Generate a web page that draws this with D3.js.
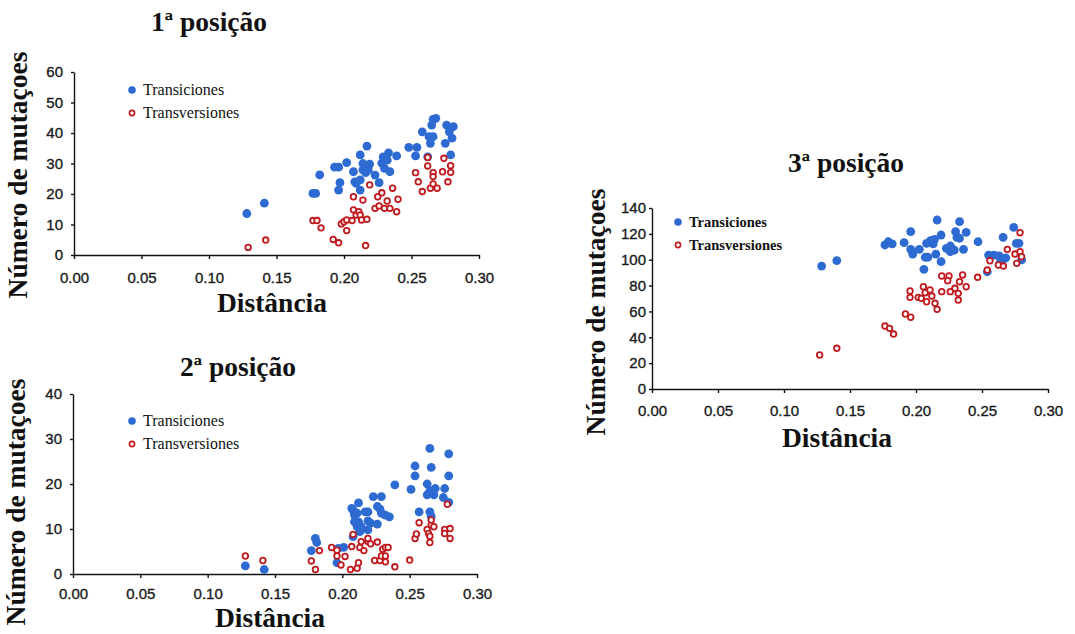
<!DOCTYPE html>
<html>
<head>
<meta charset="utf-8">
<script src="https://cdn.jsdelivr.net/npm/d3@7"></script>
<style>
  body { margin: 0; background: #fff; }
  svg { display: block; }
  .tick text { font-family: "Liberation Sans", Arial, sans-serif; font-size: 15px; fill: #1a1a1a; stroke: #1a1a1a; stroke-width: 0.35px; }
  .domain, .tick line { stroke: #111; stroke-width: 1.4px; }
  .title, .axis-label { font-family: "Liberation Serif", "Times New Roman", serif; font-weight: bold; font-size: 27.5px; fill: #111; }
  .legend-text { font-family: "Liberation Serif", "Times New Roman", serif; font-size: 16px; fill: #111; }
</style>
</head>
<body>
<svg width="1075" height="634"></svg>
<script>
// ---- data: [distance, number of mutations] ----
var xTicks = [0, 0.05, 0.10, 0.15, 0.20, 0.25, 0.30];
var seriesNames = ['Transiciones', 'Transversiones'];
var panelTitles = ['1ª posição', '2ª posição', '3ª posição'];

var trans1 = [[0.128,13.6],[0.141,17.0],[0.177,20.2],[0.179,20.2],[0.182,26.3],[0.193,28.8],[0.196,28.8],[0.202,30.3],
  [0.197,23.7],[0.196,21.3],[0.207,27.3],[0.208,24.0],[0.212,24.6],[0.209,23.5],[0.212,21.3],[0.212,32.8],[0.214,30.0],
  [0.217,35.7],[0.219,29.8],[0.214,27.9],[0.216,27.0],[0.218,27.9],[0.223,26.2],[0.226,23.7],[0.228,30.1],[0.229,32.2],
  [0.233,33.5],[0.232,31.1],[0.230,28.4],[0.234,27.3],[0.239,32.5],[0.248,35.3],[0.254,35.3],[0.253,32.5],[0.258,40.4],
  [0.263,38.8],[0.266,38.8],[0.264,36.6],[0.266,44.5],[0.268,44.8],[0.265,42.6],[0.262,32.2],[0.276,42.6],[0.281,42.1],
  [0.278,40.4],[0.275,36.6],[0.280,38.3],[0.279,32.8]];
var transv1 = [[0.129,2.5],[0.142,4.9],[0.177,11.3],[0.180,11.3],[0.183,8.9],[0.192,5.1],[0.196,4.0],[0.198,10.2],
  [0.200,10.9],[0.202,11.5],[0.202,8.0],[0.207,19.1],[0.207,14.8],[0.206,11.3],[0.209,13.1],[0.211,14.2],[0.212,13.1],
  [0.213,11.5],[0.214,18.0],[0.216,3.1],[0.217,11.7],[0.219,23.0],[0.223,15.3],[0.225,19.1],[0.228,20.4],[0.226,16.1],
  [0.230,15.3],[0.232,17.7],[0.234,15.3],[0.236,21.9],[0.239,14.2],[0.240,18.3],[0.253,27.0],[0.255,24.0],[0.258,20.8],
  [0.262,32.0],[0.262,29.2],[0.264,21.9],[0.266,27.0],[0.266,25.7],[0.266,23.3],[0.269,21.9],[0.274,31.7],[0.273,27.3],
  [0.277,24.0],[0.279,29.3],[0.279,27.1]];

var trans2 = [[0.128,1.8],[0.142,1.0],[0.177,5.2],[0.180,7.9],[0.181,7.0],[0.197,5.7],[0.201,5.9],[0.196,2.5],
  [0.207,14.6],[0.209,13.1],[0.209,11.6],[0.211,10.5],[0.208,8.3],[0.212,15.8],[0.214,10.5],[0.219,9.8],[0.219,11.8],
  [0.213,9.4],[0.217,13.8],[0.219,13.8],[0.223,17.2],[0.229,17.2],[0.226,15.0],[0.228,14.4],[0.229,13.5],[0.232,13.1],
  [0.235,12.7],[0.226,11.1],[0.208,14.2],[0.211,13.5],[0.212,11.6],[0.221,11.3],[0.239,19.8],[0.251,18.8],[0.254,24.0],
  [0.254,21.8],[0.257,13.8],[0.263,20.0],[0.265,18.5],[0.269,19.0],[0.263,17.6],[0.268,17.6],[0.265,27.9],[0.266,23.7],
  [0.265,13.8],[0.266,12.8],[0.276,19.0],[0.275,17.0],[0.279,26.7],[0.279,21.8],[0.279,15.9]];
var transv2 = [[0.128,4.0],[0.141,3.0],[0.177,2.9],[0.180,1.0],[0.183,5.2],[0.192,5.9],[0.196,4.0],[0.196,5.3],
  [0.199,2.0],[0.202,3.9],[0.206,1.0],[0.207,6.1],[0.208,8.8],[0.211,1.3],[0.212,2.5],[0.213,5.9],[0.214,7.2],
  [0.216,5.2],[0.219,7.2],[0.219,7.9],[0.221,6.7],[0.224,3.0],[0.226,7.1],[0.228,3.0],[0.229,4.0],[0.230,5.5],
  [0.232,5.9],[0.232,4.0],[0.232,2.7],[0.234,5.9],[0.239,1.6],[0.250,3.1],[0.254,7.9],[0.255,8.9],[0.257,11.4],
  [0.263,9.9],[0.264,9.0],[0.265,7.0],[0.266,10.9],[0.268,10.5],[0.266,12.0],[0.265,8.4],[0.276,9.9],[0.276,9.0],
  [0.280,10.1],[0.280,7.9],[0.278,15.5]];

var trans3 = [[0.1285,95.1],[0.140,99.3],[0.1765,111.4],[0.179,113.9],[0.182,112.2],[0.191,113.2],[0.196,121.7],
  [0.196,108.0],[0.1975,104.4],[0.2025,108.0],[0.208,112.7],[0.211,114.7],[0.213,112.2],[0.214,115.8],[0.207,101.9],
  [0.209,101.9],[0.206,92.6],[0.215,104.4],[0.216,130.7],[0.219,119.1],[0.219,98.5],[0.223,108.8],[0.226,110.6],
  [0.226,106.2],[0.229,107.5],[0.230,121.7],[0.231,117.3],[0.233,129.4],[0.233,116.6],[0.238,121.2],[0.236,108.0],
  [0.247,113.9],[0.255,103.6],[0.259,103.6],[0.266,117.3],[0.274,125.0],[0.276,112.7],[0.278,112.7],[0.263,103.0],
  [0.266,100.5],[0.268,101.5],[0.264,99.0],[0.254,90.7],[0.280,99.8]];
var transv3 = [[0.127,26.3],[0.140,31.5],[0.1765,48.7],[0.180,46.9],[0.183,42.5],[0.192,58.0],[0.196,55.5],
  [0.1955,75.8],[0.1955,70.9],[0.2017,70.9],[0.2056,79.1],[0.207,74.5],[0.204,70.1],[0.208,67.5],[0.2106,76.6],
  [0.212,71.9],[0.2144,66.3],[0.216,61.6],[0.2195,75.3],[0.2195,87.4],[0.225,87.4],[0.224,83.8],[0.226,75.3],
  [0.2295,77.9],[0.232,74.0],[0.232,68.8],[0.2353,88.2],[0.238,79.1],[0.233,83.0],[0.2467,86.4],[0.256,99.2],
  [0.2624,95.9],[0.2662,95.1],[0.2692,108.0],[0.2788,120.9],[0.275,104.4],[0.2788,106.2],[0.2763,97.2],
  [0.280,102.3],[0.254,92.0]];

var yTicks1 = [0, 10, 20, 30, 40, 50, 60];
var yTicks2 = [0, 10, 20, 30, 40];
var yTicks3 = [0, 20, 40, 60, 80, 100, 120, 140];

var svg = d3.select('svg');
var blue = '#2d6bd2';
var red = '#c01a1e';

// panel boxes, in page pixels
var panels = [
  {title: panelTitles[0], trans: trans1, transv: transv1, yTicks: yTicks1,
   x0: 74, x1: 479, yTop: 72, yBot: 255, xPad: 13, yPad: 8,
   titleX: 209, titleY: 31, xlabX: 272, xlabY: 312, ylabX: 27, ylabY: 175,
   legX: 132, legY: 90, legFont: '16px', legBold: false},
  {title: panelTitles[1], trans: trans2, transv: transv2, yTicks: yTicks2,
   x0: 73, x1: 477, yTop: 394, yBot: 574, xPad: 10, yPad: 8,
   titleX: 238, titleY: 376, xlabX: 270, xlabY: 627, ylabX: 25, ylabY: 502,
   legX: 132, legY: 421, legFont: '16px', legBold: false},
  {title: panelTitles[2], trans: trans3, transv: transv3, yTicks: yTicks3,
   x0: 652, x1: 1048, yTop: 208, yBot: 389, xPad: 12, yPad: 3,
   titleX: 846, titleY: 172, xlabX: 837, xlabY: 447, ylabX: 605, ylabY: 312,
   legX: 678, legY: 222, legFont: '14.5px', legBold: true}
];

panels.forEach(function(p) {
  var g = svg.append('g');
  var yMax = p.yTicks[p.yTicks.length - 1];

  var xScale = d3.scaleLinear().domain([0, 0.30]).range([p.x0, p.x1]);
  var yScale = d3.scaleLinear().domain([0, yMax]).range([p.yBot, p.yTop]);

  g.append('g')
    .attr('transform', 'translate(0,' + p.yBot + ')')
    .call(d3.axisBottom(xScale).tickValues(xTicks).tickFormat(d3.format('.2f'))
      .tickSizeInner(4).tickSizeOuter(0).tickPadding(p.xPad));

  g.append('g')
    .attr('transform', 'translate(' + p.x0 + ',0)')
    .call(d3.axisLeft(yScale).tickValues(p.yTicks).tickFormat(d3.format('d'))
      .tickSizeInner(3).tickSizeOuter(0).tickPadding(p.yPad));

  // transiciones: filled blue dots
  g.append('g').selectAll('circle')
    .data(p.trans)
    .enter()
    .append('circle')
    .attr('cx', function(d) { return xScale(d[0]); })
    .attr('cy', function(d) { return yScale(d[1]); })
    .attr('r', 4.4)
    .style('fill', blue);

  // transversiones: open red rings on top
  g.append('g').selectAll('circle')
    .data(p.transv)
    .enter()
    .append('circle')
    .attr('cx', function(d) { return xScale(d[0]); })
    .attr('cy', function(d) { return yScale(d[1]); })
    .attr('r', 2.8)
    .style('fill', '#fff')
    .style('stroke', red)
    .style('stroke-width', 1.8);

  g.append('text').attr('class', 'title')
    .attr('x', p.titleX).attr('y', p.titleY)
    .attr('text-anchor', 'middle')
    .text(p.title);

  g.append('text').attr('class', 'axis-label')
    .attr('x', p.xlabX).attr('y', p.xlabY)
    .attr('text-anchor', 'middle')
    .text('Distância');

  g.append('text').attr('class', 'axis-label')
    .attr('transform', 'translate(' + p.ylabX + ',' + p.ylabY + ') rotate(-90)')
    .attr('text-anchor', 'middle')
    .text('Número de mutaçoes');

  // legend
  var leg = g.append('g').attr('transform', 'translate(' + p.legX + ',' + p.legY + ')');
  leg.append('circle').attr('cx', 0).attr('cy', 0).attr('r', 3.8).style('fill', blue);
  leg.append('circle').attr('cx', 0).attr('cy', 23).attr('r', 2.6)
    .style('fill', '#fff').style('stroke', red).style('stroke-width', 1.6);
  leg.selectAll('.legend-text')
    .data(seriesNames)
    .enter()
    .append('text')
    .attr('class', 'legend-text')
    .attr('x', 11)
    .attr('y', function(d, i) { return 5 + i * 23; })
    .style('font-size', p.legFont)
    .style('font-weight', p.legBold ? 'bold' : 'normal')
    .text(function(d) { return d; });
});
</script>
</body>
</html>
